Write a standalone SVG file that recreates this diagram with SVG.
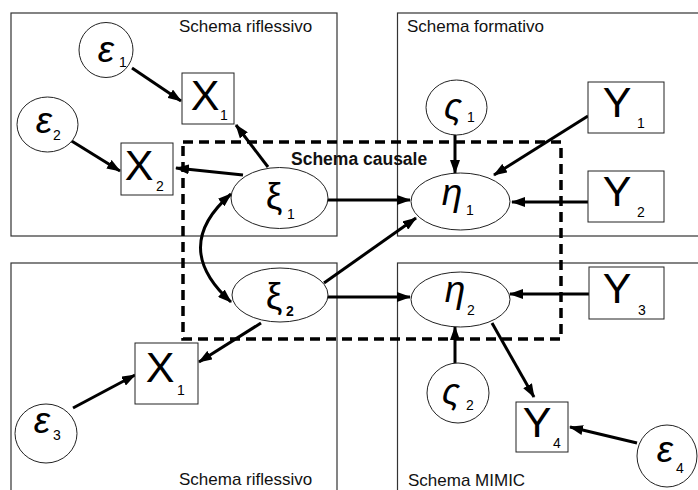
<svg xmlns="http://www.w3.org/2000/svg" width="698" height="490" viewBox="0 0 698 490">
  <style>
    .panel { fill: none; stroke: #333; stroke-width: 1.2; }
    .panel-label { font-family: "Liberation Sans", Arial, sans-serif; font-size: 17px; fill: #111; }
    .causal-label { font-family: "Liberation Sans", Arial, sans-serif; font-size: 17.5px; font-weight: bold; fill: #111; }
    .node { fill: #fff; stroke: #222; stroke-width: 1; }
    .latin { font-family: "Liberation Sans", Arial, sans-serif; font-size: 43px; fill: #000; text-anchor: middle; }
    .greek { font-family: "Liberation Sans", "DejaVu Sans", sans-serif; font-size: 37px; fill: #000; text-anchor: middle; }
    .greek.it { font-style: italic; }
    .sub { font-family: "Liberation Sans", Arial, sans-serif; font-size: 14px; fill: #000; text-anchor: middle; }
    .sub.b { font-weight: bold; }
    .edge { fill: none; stroke: #000; stroke-width: 3; }
    .frame { fill: none; stroke: #000; stroke-width: 3.5; stroke-dasharray: 10 6; }
  </style>
  <defs>
    <marker id="arrow" markerUnits="userSpaceOnUse" markerWidth="14" markerHeight="10" refX="13" refY="5" orient="auto">
      <path d="M0,0 L14,5 L0,10 z" fill="#000"/>
    </marker>
    <marker id="arrow-start" markerUnits="userSpaceOnUse" markerWidth="14" markerHeight="10" refX="1" refY="5" orient="auto">
      <path d="M14,0 L0,5 L14,10 z" fill="#000"/>
    </marker>
  </defs>

  <!-- model panels -->
  <g id="panels">
    <rect class="panel" x="11" y="13" width="326" height="223"/>
    <rect class="panel" x="397.5" y="13" width="310" height="223"/>
    <rect class="panel" x="11" y="263" width="326" height="240"/>
    <rect class="panel" x="397.5" y="263" width="310" height="240"/>
    <text class="panel-label" x="179" y="32">Schema riflessivo</text>
    <text class="panel-label" x="407" y="32">Schema formativo</text>
    <text class="panel-label" x="179" y="485">Schema riflessivo</text>
    <text class="panel-label" x="408" y="486">Schema MIMIC</text>
  </g>

  <!-- structural part -->
  <g id="causal-frame">
    <rect class="frame" x="183" y="142" width="378" height="197"/>
    <text class="causal-label" x="291" y="165">Schema causale</text>
  </g>

  <!-- connectors -->
  <g id="connectors">
    <line class="edge" x1="132" y1="68" x2="181" y2="101" marker-end="url(#arrow)"/>
    <line class="edge" x1="70" y1="140" x2="120" y2="171" marker-end="url(#arrow)"/>
    <line class="edge" x1="268" y1="167" x2="236" y2="125" marker-end="url(#arrow)"/>
    <line class="edge" x1="243" y1="175" x2="176" y2="168" marker-end="url(#arrow)"/>
    <path class="edge" d="M231,194 Q170,247 231,302" marker-start="url(#arrow-start)" marker-end="url(#arrow)"/>
    <line class="edge" x1="328" y1="200" x2="410" y2="200" marker-end="url(#arrow)"/>
    <line class="edge" x1="324" y1="283" x2="416" y2="218" marker-end="url(#arrow)"/>
    <line class="edge" x1="328" y1="297" x2="410" y2="297" marker-end="url(#arrow)"/>
    <line class="edge" x1="261" y1="323" x2="199" y2="362" marker-end="url(#arrow)"/>
    <line class="edge" x1="73" y1="408" x2="135" y2="375" marker-end="url(#arrow)"/>
    <line class="edge" x1="455" y1="135" x2="455" y2="173" marker-end="url(#arrow)"/>
    <line class="edge" x1="588" y1="116" x2="494" y2="175" marker-end="url(#arrow)"/>
    <line class="edge" x1="588" y1="202" x2="512" y2="202" marker-end="url(#arrow)"/>
    <line class="edge" x1="589" y1="294" x2="510" y2="294" marker-end="url(#arrow)"/>
    <line class="edge" x1="455" y1="363" x2="455" y2="327" marker-end="url(#arrow)"/>
    <line class="edge" x1="492" y1="323" x2="534" y2="397" marker-end="url(#arrow)"/>
    <line class="edge" x1="637" y1="443" x2="570" y2="427" marker-end="url(#arrow)"/>
  </g>

  <!-- error terms -->
  <g id="eps1">
    <ellipse class="node" cx="106" cy="50" rx="27" ry="27.5"/>
    <text class="greek it" x="106" y="62">ε</text>
    <text class="sub" x="123" y="67">1</text>
  </g>
  <g id="eps2">
    <ellipse class="node" cx="47.5" cy="124.5" rx="30.5" ry="27.5"/>
    <text class="greek it" x="44" y="133">ε</text>
    <text class="sub" x="57" y="140">2</text>
  </g>
  <g id="eps3">
    <ellipse class="node" cx="46" cy="433.5" rx="31" ry="29.5"/>
    <text class="greek it" x="42" y="433">ε</text>
    <text class="sub" x="57" y="440">3</text>
  </g>
  <g id="eps4">
    <ellipse class="node" cx="667" cy="456" rx="30" ry="31"/>
    <text class="greek it" x="665" y="462">ε</text>
    <text class="sub" x="680" y="473">4</text>
  </g>

  <!-- reflective indicators -->
  <g id="x1-top">
    <rect class="node" x="182" y="73" width="52" height="51"/>
    <text class="latin" x="205" y="110">X</text>
    <text class="sub" x="224" y="120">1</text>
  </g>
  <g id="x2">
    <rect class="node" x="121" y="143" width="52" height="52"/>
    <text class="latin" x="139" y="180">X</text>
    <text class="sub" x="160" y="191">2</text>
  </g>
  <g id="x1-bottom">
    <rect class="node" x="135" y="343" width="63" height="61"/>
    <text class="latin" x="160" y="382">X</text>
    <text class="sub" x="181" y="395">1</text>
  </g>

  <!-- exogenous latents -->
  <g id="xi1">
    <ellipse class="node" cx="279.5" cy="198" rx="48.5" ry="30.5"/>
    <text class="greek" x="274" y="209">ξ</text>
    <text class="sub" x="291" y="219">1</text>
  </g>
  <g id="xi2">
    <ellipse class="node" cx="280" cy="295" rx="48" ry="27"/>
    <text class="greek" x="274" y="309">ξ</text>
    <text class="sub b" x="290" y="316">2</text>
  </g>

  <!-- endogenous latents -->
  <g id="eta1">
    <ellipse class="node" cx="460.5" cy="201.5" rx="49.5" ry="28.5"/>
    <text class="greek it" x="452" y="205">η</text>
    <text class="sub" x="470" y="215">1</text>
  </g>
  <g id="eta2">
    <ellipse class="node" cx="460.5" cy="299.5" rx="49.5" ry="27.5"/>
    <text class="greek it" x="455" y="302">η</text>
    <text class="sub" x="471" y="315">2</text>
  </g>

  <!-- disturbances -->
  <g id="zeta1">
    <ellipse class="node" cx="456.5" cy="107.5" rx="30.5" ry="27.5"/>
    <text class="greek it" x="453" y="119">ς</text>
    <text class="sub" x="471" y="122">1</text>
  </g>
  <g id="zeta2">
    <ellipse class="node" cx="458" cy="393" rx="31" ry="30"/>
    <text class="greek it" x="451" y="404">ς</text>
    <text class="sub" x="470" y="410">2</text>
  </g>

  <!-- formative / MIMIC indicators -->
  <g id="y1">
    <rect class="node" x="588" y="82" width="76" height="51"/>
    <text class="latin" x="617" y="117">Y</text>
    <text class="sub" x="641" y="128">1</text>
  </g>
  <g id="y2">
    <rect class="node" x="588" y="171" width="76" height="51"/>
    <text class="latin" x="617" y="206">Y</text>
    <text class="sub" x="641" y="217">2</text>
  </g>
  <g id="y3">
    <rect class="node" x="589" y="267" width="75" height="52"/>
    <text class="latin" x="617" y="303">Y</text>
    <text class="sub" x="642" y="315">3</text>
  </g>
  <g id="y4">
    <rect class="node" x="516" y="402" width="52" height="50"/>
    <text class="latin" x="537" y="437">Y</text>
    <text class="sub" x="557" y="448">4</text>
  </g>
</svg>
